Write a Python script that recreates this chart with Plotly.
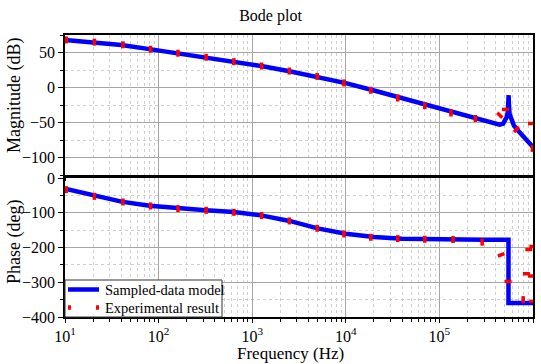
import plotly.graph_objects as go

# ---------------- data ----------------
model_mag_freq = [10, 20, 40, 80, 160, 320, 640, 1250, 2500, 5000, 10000, 20000, 40000,
                  80000, 160000, 240000, 300000, 380000, 440000, 480000, 505000, 525000,
                  538000, 545000, 549000, 553000, 562000, 590000, 624000, 676000, 795000,
                  1000000]
model_mag = [68, 65, 60.6, 54.8, 49, 43.2, 37, 30.6, 23.2, 15.4, 6.2, -4.3, -15.3,
             -26.3, -37, -44, -48, -52, -53, -51.5, -47, -42,
             -35, -25, -11, -25, -38, -48, -54, -60, -70,
             -85]

model_phase_freq = [10, 20, 40, 80, 160, 320, 640, 1250, 2500, 5000, 10000, 20000, 40000,
                    80000, 160000, 300000, 547000, 547000, 1000000]
model_phase = [-31, -51, -68, -80, -87.5, -92.5, -98, -107.5, -123.5, -145, -160.5, -170,
               -174.5, -176.5, -177.5, -178, -178, -360, -360]

exp_mag_freq = [10.3, 20.6, 41.6, 82, 161, 322, 637, 1259, 2495, 4943, 9550, 18500, 35900,
                69800, 133000, 242000, 442000, 508000, 665000, 964000, 985000]
exp_mag = [68, 64.8, 61, 54.7, 49, 43.2, 36.9, 30.7, 23.5, 15.8, 6.6, -3.9, -15,
           -26, -36.5, -44.3, -39.6, -31.4, -60, -51.4, -87]

exp_phase_freq = [10.3, 20.6, 41.6, 82, 161, 322, 637, 1259, 2495, 4943, 9550, 18500, 35900,
                  69800, 140000, 286000, 457000, 542000, 785000, 851000, 902000, 964000,
                  995000, 995000]
exp_phase = [-33.6, -52.8, -69, -80.5, -88, -93, -98.8, -108, -123.6, -144.8, -161, -170.6,
             -174.4, -176.3, -177, -184.7, -221, -297.6, -350, -275.5, -205.7, -282,
             -197, -355]

x_tick_vals = [10, 100, 1000, 10000, 100000, 1000000]
x_tick_text = ["10<sup>1</sup>", "10<sup>2</sup>", "10<sup>3</sup>", "10<sup>4</sup>",
               "10<sup>5</sup>", "10<sup>6</sup>"]

legend_names = ["Sampled-data model", "Experimental result"]

# marker orientation (style only)
mag_angles = [0] * 16 + [-45, 90, 45, 90, 0]
phase_angles = [0] * 16 + [70, 90, 0, 90, 90, 90, 90, 90]

FONT = "Liberation Serif"
BLUE = "#0000ff"
RED = "#ff0000"
MAJOR = "#a6a6a6"
MINOR = "#cfcfcf"

fig = go.Figure()

fig.add_trace(go.Scatter(x=model_mag_freq, y=model_mag, mode="lines",
                         line=dict(color=BLUE, width=4.5), name=legend_names[0],
                         xaxis="x", yaxis="y", showlegend=False))
fig.add_trace(go.Scatter(x=model_phase_freq, y=model_phase, mode="lines",
                         line=dict(color=BLUE, width=4.5), name=legend_names[0],
                         xaxis="x2", yaxis="y2", showlegend=False))
fig.add_trace(go.Scatter(x=exp_mag_freq, y=exp_mag, mode="markers",
                         marker=dict(symbol="line-ns", size=5, angle=mag_angles,
                                     line=dict(color=RED, width=3.5)),
                         name=legend_names[1], xaxis="x", yaxis="y", showlegend=False))
fig.add_trace(go.Scatter(x=exp_phase_freq, y=exp_phase, mode="markers",
                         marker=dict(symbol="line-ns", size=5, angle=phase_angles,
                                     line=dict(color=RED, width=3.5)),
                         name=legend_names[1], xaxis="x2", yaxis="y2", showlegend=False))

W, H = 541, 364
ml, mr, mt, mb = 65, 8, 35, 47
pw = W - ml - mr
ph = H - mt - mb
up_bottom = (H - mb - 175) / ph
low_top = (H - mb - 178) / ph


def px(xp):
    return (xp - ml) / pw


def py(yp):
    return (H - mb - yp) / ph


common_x = dict(type="log", range=[1, 6], showline=True, linecolor="black", linewidth=1.5,
                mirror=True, showgrid=True, gridcolor=MAJOR, gridwidth=1,
                tickvals=x_tick_vals, ticktext=x_tick_text, ticks="outside", tickcolor="black",
                ticklen=4, automargin=False,
                minor=dict(dtick="D1", showgrid=True, gridcolor=MINOR, griddash="dot",
                           ticks="outside", ticklen=3, tickcolor="black"),
                zeroline=False)
common_y = dict(showline=True, linecolor="black", linewidth=1.5, mirror=True,
                showgrid=True, gridcolor=MAJOR, gridwidth=1, ticks="outside",
                tickcolor="black", ticklen=5, zeroline=False,
                automargin=False,
                tickfont=dict(family=FONT, size=16, color="black"))

# manual legend box (drawn as layout decoration)
shapes = [
    dict(type="rect", xref="paper", yref="paper", x0=px(65), x1=px(222), y0=py(317), y1=py(280),
         fillcolor="white", line=dict(color="#333333", width=1), layer="above"),
    dict(type="line", xref="paper", yref="paper", x0=px(68), x1=px(99), y0=py(289.5), y1=py(289.5),
         line=dict(color=BLUE, width=4.5), layer="above"),
    dict(type="line", xref="paper", yref="paper", x0=px(68), x1=px(71), y0=py(307.5), y1=py(307.5),
         line=dict(color=RED, width=4.5), layer="above"),
    dict(type="line", xref="paper", yref="paper", x0=px(96), x1=px(99), y0=py(307.5), y1=py(307.5),
         line=dict(color=RED, width=4.5), layer="above"),
]
annotations = [
    dict(text=legend_names[0], xref="paper", yref="paper", x=px(103), y=py(289.5),
         xanchor="left", yanchor="middle", showarrow=False,
         font=dict(family=FONT, size=14.5, color="black")),
    dict(text=legend_names[1], xref="paper", yref="paper", x=px(103), y=py(307.5),
         xanchor="left", yanchor="middle", showarrow=False,
         font=dict(family=FONT, size=14.5, color="black")),
    dict(text="Frequency (Hz)", xref="paper", yref="paper", x=px(290), y=py(353),
         xanchor="center", yanchor="middle", showarrow=False,
         font=dict(family=FONT, size=17, color="black")),
    dict(text="Magnitude (dB)", xref="paper", yref="paper", x=px(14), y=py(96),
         xanchor="center", yanchor="middle", showarrow=False, textangle=-90,
         font=dict(family=FONT, size=18, color="black")),
    dict(text="Phase (deg)", xref="paper", yref="paper", x=px(14), y=py(242),
         xanchor="center", yanchor="middle", showarrow=False, textangle=-90,
         font=dict(family=FONT, size=18, color="black")),
]

fig.update_layout(
    width=W, height=H,
    margin=dict(l=ml, r=mr, t=mt, b=mb, autoexpand=False),
    paper_bgcolor="white", plot_bgcolor="white",
    font=dict(family=FONT, color="black"),
    showlegend=False,
    title=dict(text="Bode plot", x=0.5, xref="container", xanchor="center",
               y=1 - 15 / H, yref="container", yanchor="middle",
               font=dict(family=FONT, size=16, color="black")),
    xaxis=dict(common_x, domain=[0, 1], anchor="y", showticklabels=False),
    xaxis2=dict(common_x, domain=[0, 1], anchor="y2", showticklabels=True,
                tickfont=dict(family=FONT, size=16, color="black")),
    yaxis=dict(common_y, domain=[up_bottom, 1], anchor="x", range=[-125, 75], dtick=50,
               minor=dict(dtick=25, showgrid=True, gridcolor=MINOR, griddash="dot",
                          ticks="outside", ticklen=3, tickcolor="black")),
    yaxis2=dict(common_y, domain=[0, low_top], anchor="x2", range=[-400, 0], dtick=100,
                minor=dict(dtick=50, showgrid=True, gridcolor=MINOR, griddash="dot",
                           ticks="outside", ticklen=3, tickcolor="black")),
    shapes=shapes,
    annotations=annotations,
)

fig.write_html("out.html", config={"displayModeBar": False},
               post_script="document.body.style.margin='0';document.body.style.padding='0';")
